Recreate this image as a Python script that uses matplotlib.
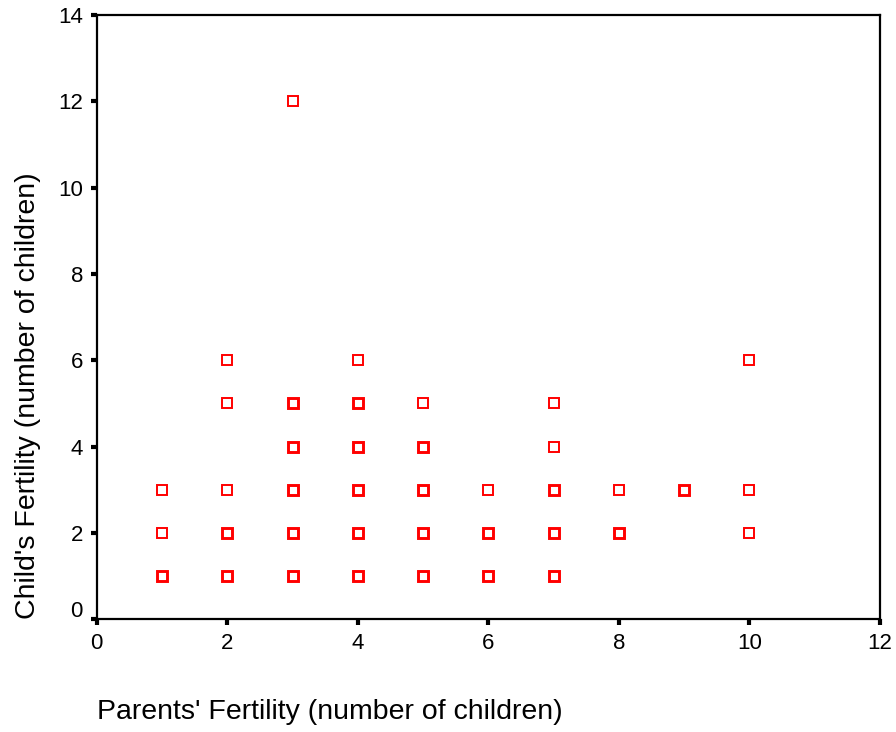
import matplotlib
matplotlib.use("Agg")
import matplotlib.pyplot as plt
import matplotlib.transforms as mtransforms

plt.rcParams['font.family'] = ['Liberation Sans', 'DejaVu Sans']

# parents' fertility (x), child's fertility (y), and how many cases share that point
parents = [1, 1, 1,
           2, 2, 2, 2, 2,
           3, 3, 3, 3, 3, 3,
           4, 4, 4, 4, 4, 4,
           5, 5, 5, 5, 5,
           6, 6, 6,
           7, 7, 7, 7, 7,
           8, 8,
           9,
           10, 10, 10]
child = [1, 2, 3,
         1, 2, 3, 5, 6,
         1, 2, 3, 4, 5, 12,
         1, 2, 3, 4, 5, 6,
         1, 2, 3, 4, 5,
         1, 2, 3,
         1, 2, 3, 4, 5,
         2, 3,
         3,
         2, 3, 6]
counts = [2, 1, 1,
          2, 2, 1, 1, 1,
          2, 2, 2, 2, 2, 1,
          2, 2, 2, 2, 2, 1,
          2, 2, 2, 2, 1,
          2, 2, 1,
          2, 2, 2, 1, 1,
          2, 1,
          2,
          1, 1, 1]

x_ticks = [0, 2, 4, 6, 8, 10, 12]
y_ticks = [0, 2, 4, 6, 8, 10, 12, 14]

fig = plt.figure(figsize=(8.96, 7.32), dpi=100)
ax = fig.add_axes([0.108, 0.154, 0.874, 0.8255])

for x, y, n in zip(parents, child, counts):
    ax.plot(x, y, linestyle='none', marker='s', markersize=7,
            markerfacecolor='white', markeredgecolor='#ff0000',
            markeredgewidth=2.1 if n > 1 else 1.4)

ax.set_xlim(0, 12)
ax.set_ylim(0, 14)
ax.set_xticks(x_ticks)
ax.set_yticks(y_ticks)
ax.tick_params(direction='out', length=4, width=3, labelsize=16, pad=6)

for side in ['left', 'bottom', 'top', 'right']:
    ax.spines[side].set_linewidth(1.6)

# the 0 label sits a little above its tick in the original
lbl0 = ax.get_yticklabels()[0]
lbl0.set_transform(lbl0.get_transform() +
                   mtransforms.ScaledTranslation(0, 0.1, fig.dpi_scale_trans))

ax.set_xlabel("Parents' Fertility (number of children)", fontsize=20.5,
              loc='left', labelpad=32)
ax.set_ylabel("Child's Fertility (number of children)", fontsize=20.5,
              loc='bottom', labelpad=12)

fig.savefig("out.png", dpi=100)
